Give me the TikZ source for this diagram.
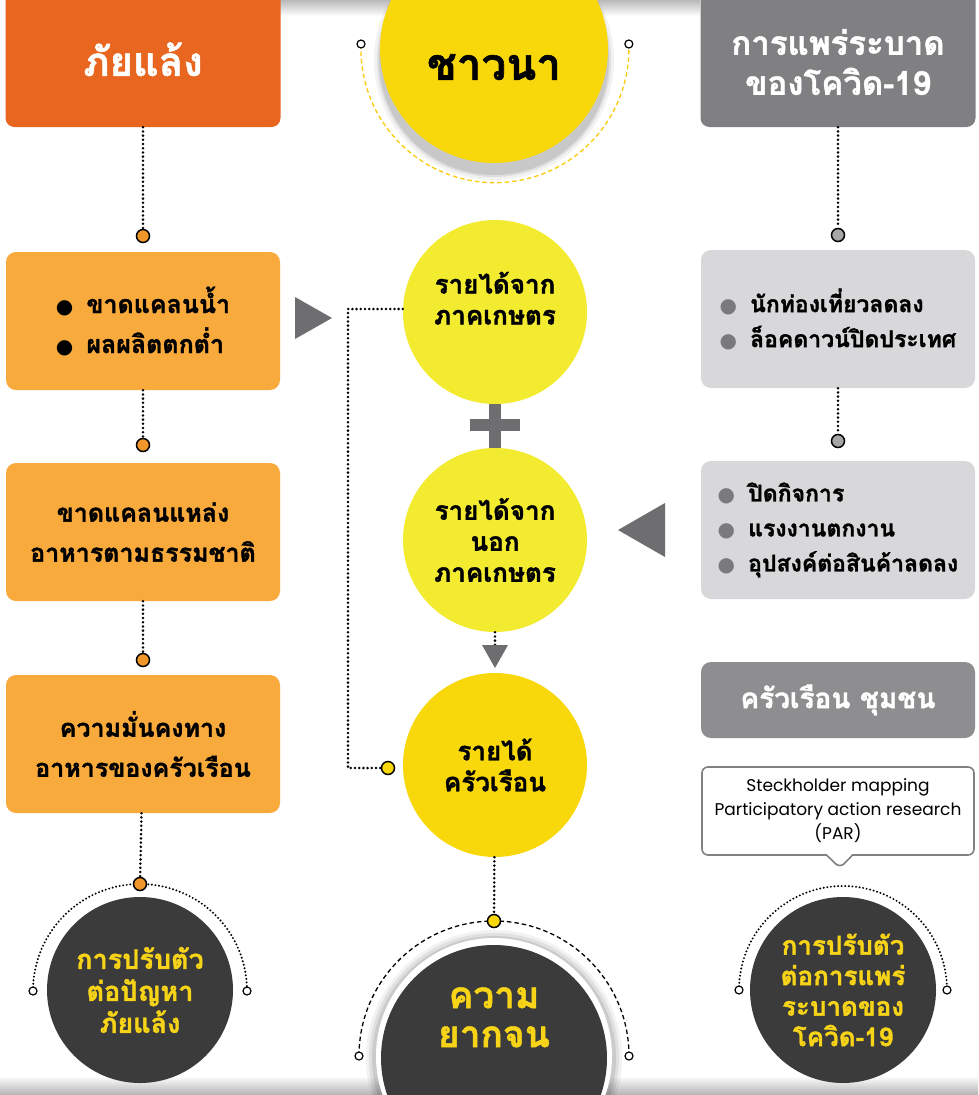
\documentclass[tikz,border=0pt]{standalone}
\usepackage{fontspec}
\usepackage{xcolor}
\usepackage{tikz}
\usetikzlibrary{positioning}
\usetikzlibrary{shapes.callouts}
\newfontfamily\thaifont[Script=Thai, BoldFeatures={FakeBold=1.3}]{Loma}
\newfontfamily\latfont{Poppins}
\newfontfamily\symfont{DejaVu Sans}
\definecolor{orangehead}{HTML}{E8661F}
\definecolor{orangebox}{HTML}{F9AA3C}
\definecolor{orangejoint}{HTML}{F0962A}
\definecolor{grayhead}{HTML}{808082}
\definecolor{graybox}{HTML}{D8D8DA}
\definecolor{graymid}{HTML}{8E8E90}
\definecolor{lemon}{HTML}{F2EB30}
\definecolor{gold}{HTML}{F8D80B}
\definecolor{darkfill}{HTML}{3B3B3B}
\definecolor{textyellow}{HTML}{F7D417}
\definecolor{arrowgray}{HTML}{6E6E70}
\definecolor{bulletgray}{HTML}{7A7A7C}
\newcommand{\blt}[1]{{\symfont\fontsize{20}{20}\selectfont\textcolor{#1}{●}}\hspace{13pt}}
\newcommand{\lift}[2]{\raisebox{#1}[0pt][0pt]{\begin{tabular}{@{}c@{}}#2\end{tabular}}}
\tikzset{
    headbox/.style = {rectangle, rounded corners=9pt, text=white, align=center, minimum width=275pt, minimum height=142pt, font=\thaifont\bfseries\fontsize{33}{40}\selectfont},
    obox/.style = {rectangle, rounded corners=10pt, fill=orangebox, minimum width=274pt, minimum height=138pt, align=center, font=\thaifont\bfseries\fontsize{25}{40}\selectfont},
    gbox/.style = {rectangle, rounded corners=10pt, fill=graybox, minimum width=274pt, minimum height=138pt, align=left, font=\thaifont\bfseries\fontsize{23}{35}\selectfont},
    incircle/.style = {circle, minimum size=184pt, inner sep=0pt, align=center, font=\thaifont\bfseries\fontsize{26}{31}\selectfont},
    darkcircle/.style = {circle, fill=darkfill, minimum size=186pt, inner sep=0pt, text=textyellow, align=center, font=\thaifont\bfseries\fontsize{27}{32}\selectfont},
    joint/.style = {circle, draw=black, line width=1.5pt, minimum size=13pt, inner sep=0pt},
    endpt/.style = {circle, draw=black, fill=white, line width=1.2pt, minimum size=8pt, inner sep=0pt},
    dotline/.style = {line width=2.8pt, dash pattern=on 0pt off 4.2pt, line cap=round},
    dotarc/.style = {line width=2.2pt, dash pattern=on 0pt off 3.6pt, line cap=round},
    dasharc/.style = {line width=1.3pt, dash pattern=on 4.5pt off 3pt},
}
\begin{document}
\begin{tikzpicture}[x=1pt, y=-1pt]
\clip (0,0) rectangle (978,1095);
\fill[white] (0,0) rectangle (978,1095);
\shade[top color=gray!55, bottom color=white] (280,0) rectangle (700,16);
\shade[top color=white, bottom color=gray!60] (0,1076) rectangle (978,1095);
%
% headers
\node[headbox, fill=orangehead, font=\thaifont\bfseries\fontsize{40}{44}\selectfont] at (143,56) (drought) {\lift{-16pt}{ภัยแล้ง}};
\node[headbox, fill=grayhead] at (838,56) (covid) {\lift{-17pt}{การแพร่ระบาด\\ของโควิด-19}};
%
\foreach \r/\o in {120/0.05, 117/0.08, 115/0.10}
    \fill[black, opacity=\o] (494,60) circle[radius=\r];
\coordinate (fal) at (361,44);
\draw[dasharc, color=gold!85!orange] (fal) arc[start angle=182, end angle=-2, radius=134] coordinate (far);
\node[endpt] at (fal) (fal-o) {};
\node[endpt] at (far) (far-o) {};
\node[circle, fill=gold, minimum size=228pt, inner sep=0pt, font=\thaifont\bfseries\fontsize{44}{50}\selectfont] at (494,49) (farmer) {\lift{-27pt}{ชาวนา}};
%
% left column
\node[obox, align=left] at (143,321) (lack) {\blt{black}ขาดแคลนน้ำ\\\blt{black}ผลผลิตตกต่ำ};
\node[obox] at (143,532) (food) {ขาดแคลนแหล่ง\\อาหารตามธรรมชาติ};
\node[obox] at (143,744) (secure) {ความมั่นคงทาง\\อาหารของครัวเรือน};
%
% centre column
\node[incircle, fill=lemon] at (495,312) (ag) {\lift{3pt}{รายได้จาก\\ภาคเกษตร}};
\node[incircle, fill=lemon] at (495,540) (nonag) {รายได้จาก\\นอก\\ภาคเกษตร};
\node[incircle, fill=gold] at (495,765) (income) {รายได้\\ครัวเรือน};
%
% right column
\node[gbox] at (838,319) (tour) {\blt{bulletgray}นักท่องเที่ยวลดลง\\\blt{bulletgray}ล็อคดาวน์ปิดประเทศ};
\node[gbox] at (838,530) (jobs) {\blt{bulletgray}ปิดกิจการ\\\blt{bulletgray}แรงงานตกงาน\\\blt{bulletgray}อุปสงค์ต่อสินค้าลดลง};
\node[rectangle, rounded corners=10pt, fill=graymid, minimum width=274pt, minimum height=76pt, text=white, font=\thaifont\bfseries\fontsize{28}{30}\selectfont] at (838,700) (hhc) {ครัวเรือน ชุมชน};
\node[rectangle callout, callout absolute pointer={(840,868)}, callout pointer width=26pt, rounded corners=6pt, draw=gray, line width=1.6pt, fill=white, minimum width=272pt, minimum height=88pt, align=center, font=\latfont\fontsize{17}{24}\selectfont] at (838,811) (par) {Steckholder mapping\\Participatory action research\\(PAR)};
%
% bottom circles
\coordinate (dal) at (33,991);
\draw[dotarc] (dal) arc[start angle=180, end angle=360, radius=107] coordinate (dar);
\node[endpt] at (dal) (dal-o) {};
\node[endpt] at (dar) (dar-o) {};
\node[darkcircle] at (140,990) (adaptd) {การปรับตัว\\ต่อปัญหา\\ภัยแล้ง};
%
\coordinate (dcl) at (739,990);
\draw[dotarc] (dcl) arc[start angle=180, end angle=360, radius=104] coordinate (dcr);
\node[endpt] at (dcl) (dcl-o) {};
\node[endpt] at (dcr) (dcr-o) {};
\node[darkcircle, font=\thaifont\bfseries\fontsize{26}{30.5}\selectfont] at (843,990) (adaptc) {การปรับตัว\\ต่อการแพร่\\ระบาดของ\\โควิด-19};
%
\coordinate (dpl) at (359,1056);
\draw[dasharc] (dpl) arc[start angle=180, end angle=360, radius=135] coordinate (dpr);
\node[endpt] at (dpl) (dpl-o) {};
\node[endpt] at (dpr) (dpr-o) {};
\foreach \r/\o in {128/0.05, 125/0.07, 122/0.09}
    \fill[black, opacity=\o] (494,1058) circle[radius=\r];
\fill[white] (494,1056) circle[radius=118];
\node[circle, fill=darkfill, minimum size=226pt, inner sep=0pt, text=textyellow, align=center, font=\thaifont\bfseries\fontsize{37}{39}\selectfont] at (494,1058) (poor) {\lift{32pt}{ความ\\ยากจน}};
%
% joints
\node[joint, fill=orangejoint] at (143,236) (j1) {};
\node[joint, fill=orangejoint] at (143,445) (j2) {};
\node[joint, fill=orangejoint] at (143,660) (j3) {};
\node[joint, fill=orangejoint] at (140,884) (j4) {};
\node[joint, fill=gray!70] at (838,235) (g1) {};
\node[joint, fill=gray!70] at (838,441) (g2) {};
\node[joint, fill=gold] at (388,768) (y1) {};
\node[joint, fill=gold] at (494,921) (y2) {};
%
% links
\draw[dotline] (drought) -- (j1);
\draw[dotline] (lack) -- (j2);
\draw[dotline] (food) -- (j3);
\draw[dotline] (secure) -- (j4);
\draw[dotline] (covid.south -| g1) -- (g1);
\draw[dotline] (tour.south -| g2) -- (g2);
\draw[dotline] (income) -- (y2);
\coordinate (lk) at (348,309);
\draw[dotline] (ag.west |- lk) -- (lk) |- (y1);
\coordinate (dntop) at (495,645);
\draw[dotline] (nonag.south) -- (dntop);
%
% plus and arrows
\draw[arrowgray, line width=12pt] (ag.south) -- (nonag.north);
\coordinate (plusl) at (470,425);
\coordinate (plusr) at (520,425);
\draw[arrowgray, line width=12pt] (plusl) -- (plusr);
\fill[arrowgray] (295,297) -- (332,318) -- (295,339) -- cycle;
\fill[arrowgray] (665,503) -- (618,530) -- (665,557) -- cycle;
\fill[arrowgray] (482,645) -- (495,668) -- (508,645) -- cycle;
\end{tikzpicture}
\end{document}
